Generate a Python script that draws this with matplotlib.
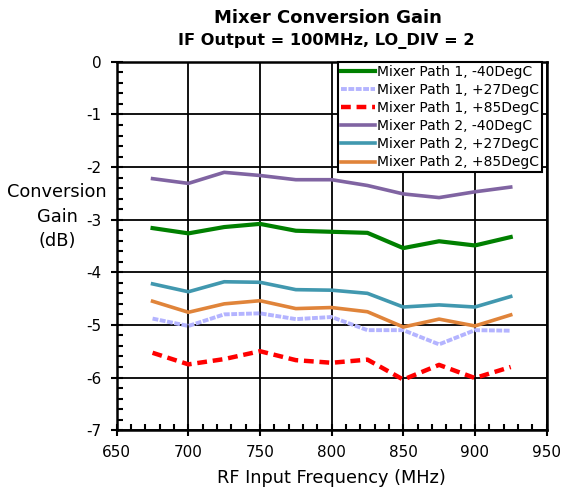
import matplotlib
matplotlib.use('Agg')
import matplotlib.pyplot as plt
from matplotlib.ticker import MultipleLocator

plt.rcParams['axes.unicode_minus'] = False
plt.rcParams['font.family'] = 'DejaVu Sans'

freq = [675, 700, 725, 750, 775, 800, 825, 850, 875, 900, 925]

p1_m40 = [-3.16, -3.26, -3.14, -3.08, -3.21, -3.23, -3.25, -3.54, -3.41, -3.49, -3.33]
p1_p27 = [-4.88, -5.02, -4.80, -4.78, -4.89, -4.85, -5.10, -5.10, -5.37, -5.10, -5.11]
p1_p85 = [-5.53, -5.75, -5.65, -5.50, -5.67, -5.72, -5.66, -6.04, -5.76, -6.01, -5.80]
p2_m40 = [-2.22, -2.31, -2.10, -2.16, -2.24, -2.24, -2.35, -2.51, -2.58, -2.47, -2.38]
p2_p27 = [-4.22, -4.37, -4.18, -4.19, -4.33, -4.34, -4.40, -4.66, -4.62, -4.66, -4.46]
p2_p85 = [-4.55, -4.76, -4.60, -4.54, -4.69, -4.67, -4.75, -5.04, -4.89, -5.02, -4.81]

labels = ['Mixer Path 1, -40DegC', 'Mixer Path 1, +27DegC', 'Mixer Path 1, +85DegC',
          'Mixer Path 2, -40DegC', 'Mixer Path 2, +27DegC', 'Mixer Path 2, +85DegC']
ylabel_lines = ['Conversion', 'Gain', '(dB)']

fig = plt.figure(figsize=(5.64, 4.91), dpi=100)
ax = fig.add_axes([0.207, 0.124, 0.762, 0.750])

ax.plot(freq, p1_m40, '-', color='#008000', lw=3.0, label=labels[0], solid_joinstyle='round')
ax.plot(freq, p1_p27, ':', color='#b4b4ff', lw=2.8, label=labels[1], dashes=(1.5, 0.4))
ax.plot(freq, p1_p85, '--', color='#ff0000', lw=3.2, label=labels[2], dashes=(2.2, 1.3))
ax.plot(freq, p2_m40, '-', color='#8064a2', lw=2.6, label=labels[3], solid_joinstyle='round')
ax.plot(freq, p2_p27, '-', color='#4198af', lw=2.6, label=labels[4], solid_joinstyle='round')
ax.plot(freq, p2_p85, '-', color='#e0843a', lw=2.6, label=labels[5], solid_joinstyle='round')

ax.set_xlim(650, 950)
ax.set_ylim(-7, 0)
ax.xaxis.set_major_locator(MultipleLocator(50))
ax.xaxis.set_minor_locator(MultipleLocator(10))
ax.yaxis.set_major_locator(MultipleLocator(1))
ax.yaxis.set_minor_locator(MultipleLocator(0.2))
ax.grid(True, which='major', color='black', lw=1.3)
ax.set_axisbelow(True)
ax.tick_params(which='major', direction='inout', length=8, width=1.5, labelsize=11,
               pad=7, top=False, right=False)
ax.tick_params(which='minor', direction='in', length=4, width=1.5, top=False, right=False)
for s in ax.spines.values():
    s.set_linewidth(1.8)

ax.set_xlabel('RF Input Frequency (MHz)', fontsize=12.8, labelpad=6)
# y label drawn line by line, like the original
for i, line in enumerate(ylabel_lines):
    fig.text(0.101, 0.608 - i * 0.049, line, ha='center', va='center', fontsize=12.8)
fig.text(0.582, 0.963, 'Mixer Conversion Gain', ha='center', va='center', fontsize=13, fontweight='bold')
fig.text(0.579, 0.917, 'IF Output = 100MHz, LO_DIV = 2', ha='center', va='center', fontsize=11.7, fontweight='bold')

leg = ax.legend(loc='upper right', bbox_to_anchor=(0.989, 1.0), fontsize=10, handlelength=2.45,
                handletextpad=0.15, labelspacing=0.3, borderpad=0.2, borderaxespad=0.0,
                fancybox=False, framealpha=1, edgecolor='black')
leg.get_frame().set_linewidth(1.5)

fig.savefig('out.png', dpi=100)
